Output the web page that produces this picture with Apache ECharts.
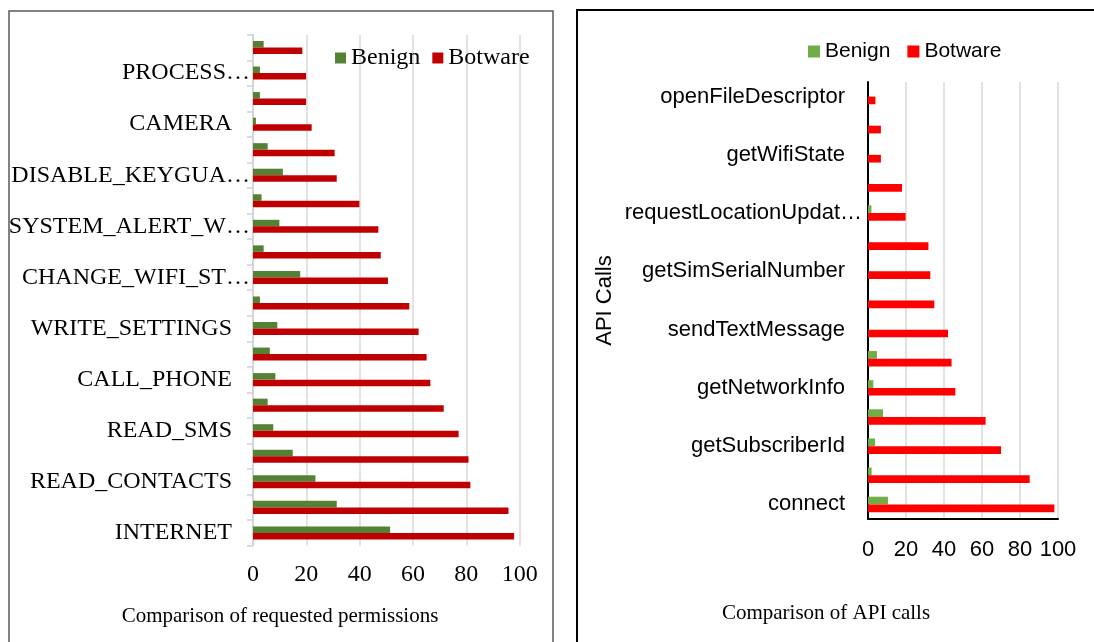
<!DOCTYPE html>
<html>
<head>
<meta charset="utf-8">
<script src="https://cdn.jsdelivr.net/npm/echarts@6/dist/echarts.min.js"></script>
<style>
  html, body { margin: 0; padding: 0; background: #fff; }
  #chart { width: 1094px; height: 642px; }
</style>
</head>
<body>
<div id="chart"></div>
<script>
// Requested permissions (bottom to top), percent of apps
const permCategories = [
  'INTERNET', 'ACCESS_NETWORK_STATE', 'READ_CONTACTS', 'READ_PHONE_STATE',
  'READ_SMS', 'SEND_SMS', 'CALL_PHONE', 'RECEIVE_SMS', 'WRITE_SETTINGS',
  'RECEIVE_BOOT_COMPLETED', 'CHANGE_WIFI_ST\u2026', 'WRITE_SMS',
  'SYSTEM_ALERT_W\u2026', 'ACCESS_WIFI_STATE', 'DISABLE_KEYGUA\u2026',
  'GET_TASKS', 'CAMERA', 'RECORD_AUDIO', 'PROCESS\u2026', 'INSTALL_PACKAGES'
];
const permBenign = [51.4, 31.4, 23.4, 14.9, 7.6, 5.5, 8.4, 6.3, 9.1, 2.6,
                    17.7, 4.0, 9.9, 3.2, 11.2, 5.5, 1.1, 2.6, 2.6, 4.0];
const permBotware = [97.9, 95.8, 81.5, 80.8, 77.1, 71.5, 66.5, 65.1, 62.1, 58.6,
                     50.6, 47.9, 47.0, 39.9, 31.4, 30.6, 22.0, 19.9, 19.9, 18.5];

// API calls (bottom to top), percent of apps
const apiCategories = [
  'connect', 'getDeviceId', 'getSubscriberId', 'getLine1Number',
  'getNetworkInfo', 'getCellLocation', 'sendTextMessage', 'getInstalledPackages',
  'getSimSerialNumber', 'getLastKnownLocation', 'requestLocationUpdat\u2026',
  'sendDataMessage', 'getWifiState', 'getAccounts', 'openFileDescriptor'
];
const apiBenign = [10.5, 1.9, 3.7, 7.9, 2.8, 4.7, 0, 0, 0, 0, 1.8, 0, 0, 0, 0];
const apiBotware = [98.1, 85.1, 70.0, 61.9, 46.0, 44.0, 42.1, 34.9, 32.8, 31.8,
                    19.8, 17.9, 6.8, 6.8, 3.9];

const valueTicks = [0, 20, 40, 60, 80, 100];

const SERIF = '"Liberation Serif", "Times New Roman", serif';
const SANS = '"Liberation Sans", Arial, sans-serif';

const permGreen = '#548235', permRed = '#C00000';
const apiGreen = '#70AD47', apiRed = '#FF0000';

// labels ending in an ellipsis sit closer to the axis
function catLabel(v) {
  return v.endsWith('\u2026') ? v : '{n|' + v + '}';
}

const chart = echarts.init(document.getElementById('chart'), null, { renderer: 'canvas' });

chart.setOption({
  animation: false,
  backgroundColor: '#fff',
  grid: [
    { left: 253, top: 34.7, width: 266.7, height: 511 },
    { left: 868, top: 82, width: 190, height: 437 }
  ],
  legend: [
    {
      left: 330, top: 41, itemWidth: 11, itemHeight: 11, itemGap: 12,
      icon: 'rect', selectedMode: false,
      textStyle: { fontFamily: SERIF, fontSize: 24, color: '#000' },
      data: [
        { name: 'Benign', itemStyle: { color: permGreen } },
        { name: 'Botware', itemStyle: { color: permRed } }
      ]
    },
    {
      left: 803, top: 36, itemWidth: 12, itemHeight: 12, itemGap: 17,
      icon: 'rect', selectedMode: false,
      textStyle: { fontFamily: SANS, fontSize: 21, color: '#000' },
      data: [
        { name: 'Benign', itemStyle: { color: apiGreen } },
        { name: 'Botware', itemStyle: { color: apiRed } }
      ]
    }
  ],
  xAxis: [
    {
      type: 'value', gridIndex: 0, min: 0, max: 100, interval: 20,
      axisLine: { show: false }, axisTick: { show: false },
      splitLine: { lineStyle: { color: '#d9d9d9', width: 1.5 } },
      axisLabel: {
        margin: 17, fontFamily: SERIF, fontSize: 24, color: '#000',
        formatter: v => valueTicks.includes(v) ? String(v) : ''
      }
    },
    {
      type: 'value', gridIndex: 1, min: 0, max: 100, interval: 20,
      axisLine: { show: true, lineStyle: { color: '#000', width: 2 } },
      axisTick: { show: false },
      splitLine: { lineStyle: { color: '#d9d9d9', width: 1.5 } },
      axisLabel: {
        margin: 20, fontFamily: SANS, fontSize: 22, color: '#000',
        formatter: v => valueTicks.includes(v) ? String(v) : ''
      }
    }
  ],
  yAxis: [
    {
      type: 'category', gridIndex: 0, data: permCategories,
      axisLine: { show: true, lineStyle: { color: '#d0d0d0', width: 1.5 } },
      axisTick: { show: true, interval: 0, length: 6, lineStyle: { color: '#d0d0d0', width: 1.5 } },
      axisLabel: {
        interval: 1, margin: 3, fontFamily: SERIF, fontSize: 24, color: '#000',
        formatter: catLabel,
        rich: { n: { fontFamily: SERIF, fontSize: 24, color: '#000', padding: [0, 18, 0, 0] } }
      }
    },
    {
      type: 'category', gridIndex: 1, data: apiCategories,
      name: 'API Calls', nameLocation: 'middle', nameRotate: 90, nameGap: 252,
      nameTextStyle: { fontFamily: SANS, fontSize: 22, color: '#000' },
      axisLine: { show: true, lineStyle: { color: '#000', width: 2 } },
      axisTick: { show: false },
      axisLabel: {
        interval: 1, margin: 6, fontFamily: SANS, fontSize: 22, color: '#000',
        formatter: catLabel,
        rich: { n: { fontFamily: SANS, fontSize: 22, color: '#000', padding: [0, 17, 0, 0] } }
      }
    }
  ],
  series: [
    {
      name: 'Benign', type: 'bar', xAxisIndex: 0, yAxisIndex: 0,
      data: permBenign, barGap: '0%', barCategoryGap: '49%',
      itemStyle: { color: permGreen }
    },
    {
      name: 'Botware', type: 'bar', xAxisIndex: 0, yAxisIndex: 0,
      data: permBotware, barGap: '0%', barCategoryGap: '49%',
      itemStyle: { color: permRed }
    },
    {
      name: 'Benign', type: 'bar', xAxisIndex: 1, yAxisIndex: 1,
      data: apiBenign, barGap: '0%', barCategoryGap: '47%',
      itemStyle: { color: apiGreen }
    },
    {
      name: 'Botware', type: 'bar', xAxisIndex: 1, yAxisIndex: 1,
      data: apiBotware, barGap: '0%', barCategoryGap: '47%',
      itemStyle: { color: apiRed }
    }
  ],
  graphic: [
    {
      type: 'rect', silent: true, z: -1,
      shape: { x: 9, y: 11, width: 544, height: 700 },
      style: { fill: 'none', stroke: '#595959', lineWidth: 1.5 }
    },
    {
      type: 'rect', silent: true, z: -1,
      shape: { x: 577, y: 10, width: 600, height: 700 },
      style: { fill: 'none', stroke: '#000', lineWidth: 2 }
    },
    {
      type: 'text', x: 280, y: 616, silent: true,
      style: {
        text: 'Comparison of requested permissions', fill: '#000',
        font: '21px ' + SERIF, textAlign: 'center', textVerticalAlign: 'middle'
      }
    },
    {
      type: 'text', x: 826, y: 613, silent: true,
      style: {
        text: 'Comparison of API calls', fill: '#000',
        font: '21px ' + SERIF, textAlign: 'center', textVerticalAlign: 'middle'
      }
    }
  ]
});
</script>
</body>
</html>
